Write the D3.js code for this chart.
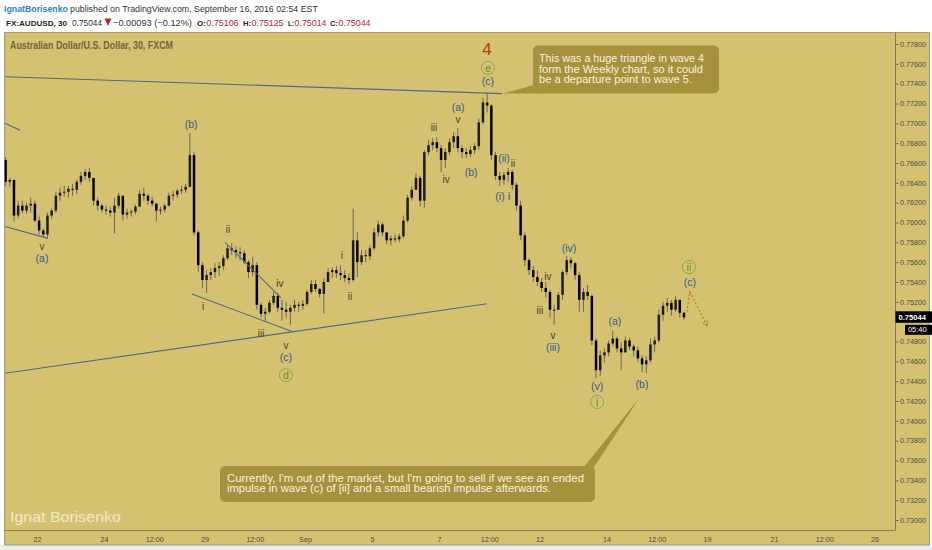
<!DOCTYPE html>
<html>
<head>
<meta charset="utf-8">
<script src="https://cdnjs.cloudflare.com/ajax/libs/d3/7.8.5/d3.min.js"></script>
<style>
  body { margin: 0; background: #fff; font-family: "Liberation Sans", Arial, sans-serif; }
</style>
</head>
<body>
<div id="chart"></div>
<script>
// AUD/USD, 3-hour bars (x = trading-day index, 0 = Aug 22)
var firstOpen = 0.7663;
var barStart = -0.9375, barStep = 0.125;

var highs = [
  0.7666,0.7645,0.7643,0.7622,0.7622,0.7620,0.7625,0.7622,0.7607,0.7594,
  0.7610,0.7614,0.7631,0.7635,0.7637,0.7637,0.7639,0.7643,0.7651,0.7654,
  0.7655,0.7645,0.7625,0.7619,0.7617,0.7616,0.7625,0.7630,0.7627,0.7614,
  0.7613,0.7618,0.7633,0.7635,0.7629,0.7626,0.7619,0.7616,0.7619,0.7630,
  0.7632,0.7634,0.7637,0.7639,0.7690,0.7671,0.7592,0.7560,0.7552,0.7554,
  0.7559,0.7560,0.7567,0.7577,0.7579,0.7576,0.7575,0.7572,0.7562,0.7565,
  0.7560,0.7519,0.7514,0.7522,0.7530,0.7529,0.7522,0.7520,0.7517,0.7522,
  0.7520,0.7522,0.7532,0.7542,0.7542,0.7534,0.7544,0.7554,0.7555,0.7556,
  0.7557,0.7552,0.7549,0.7614,0.7590,0.7572,0.7572,0.7577,0.7594,0.7602,
  0.7600,0.7590,0.7587,0.7588,0.7589,0.7607,0.7628,0.7637,0.7650,0.7647,
  0.7673,0.7683,0.7685,0.7686,0.7678,0.7675,0.7685,0.7691,0.7695,0.7678,
  0.7675,0.7677,0.7680,0.7705,0.7726,0.7730,0.7719,0.7671,0.7651,0.7651,
  0.7655,0.7653,0.7640,0.7622,0.7590,0.7564,0.7556,0.7552,0.7544,0.7540,
  0.7532,0.7517,0.7530,0.7552,0.7566,0.7565,0.7560,0.7550,0.7534,0.7537,
  0.7527,0.7483,0.7471,0.7473,0.7481,0.7491,0.7485,0.7479,0.7485,0.7484,
  0.7477,0.7475,0.7466,0.7465,0.7483,0.7485,0.7512,0.7520,0.7524,0.7522,
  0.7526,0.7522,0.7510
];
var lows = [
  0.7637,0.7636,0.7601,0.7604,0.7609,0.7609,0.7610,0.7600,0.7588,0.7585,
  0.7584,0.7604,0.7610,0.7622,0.7626,0.7625,0.7627,0.7629,0.7638,0.7643,
  0.7641,0.7617,0.7612,0.7610,0.7608,0.7606,0.7589,0.7614,0.7602,0.7604,
  0.7606,0.7608,0.7616,0.7622,0.7618,0.7616,0.7601,0.7608,0.7610,0.7616,
  0.7622,0.7625,0.7629,0.7630,0.7635,0.7587,0.7550,0.7534,0.7529,0.7542,
  0.7544,0.7546,0.7552,0.7562,0.7567,0.7564,0.7562,0.7558,0.7544,0.7546,
  0.7512,0.7504,0.7501,0.7508,0.7517,0.7510,0.7501,0.7504,0.7497,0.7510,
  0.7510,0.7512,0.7516,0.7528,0.7530,0.7524,0.7508,0.7540,0.7544,0.7544,
  0.7542,0.7540,0.7538,0.7540,0.7545,0.7557,0.7560,0.7562,0.7572,0.7586,
  0.7586,0.7578,0.7577,0.7580,0.7580,0.7584,0.7600,0.7622,0.7633,0.7616,
  0.7615,0.7668,0.7673,0.7671,0.7651,0.7655,0.7668,0.7675,0.7671,0.7665,
  0.7665,0.7666,0.7669,0.7673,0.7699,0.7711,0.7663,0.7643,0.7637,0.7638,
  0.7641,0.7633,0.7612,0.7582,0.7556,0.7547,0.7540,0.7536,0.7530,0.7524,
  0.7504,0.7497,0.7512,0.7522,0.7547,0.7554,0.7542,0.7510,0.7510,0.7522,
  0.7476,0.7443,0.7445,0.7459,0.7465,0.7475,0.7469,0.7451,0.7469,0.7471,
  0.7465,0.7459,0.7449,0.7448,0.7459,0.7469,0.7479,0.7501,0.7510,0.7506,
  0.7510,0.7504,0.7502
];
var closes = [
  0.7641,0.7643,0.7607,0.7617,0.7612,0.7617,0.7619,0.7602,0.7592,0.7588,
  0.7607,0.7612,0.7627,0.7630,0.7631,0.7634,0.7633,0.7641,0.7647,0.7651,
  0.7645,0.7622,0.7617,0.7613,0.7612,0.7610,0.7617,0.7627,0.7608,0.7610,
  0.7611,0.7616,0.7629,0.7627,0.7622,0.7619,0.7612,0.7613,0.7617,0.7627,
  0.7628,0.7632,0.7633,0.7636,0.7668,0.7590,0.7557,0.7542,0.7547,0.7550,
  0.7554,0.7556,0.7564,0.7574,0.7572,0.7570,0.7569,0.7560,0.7550,0.7557,
  0.7517,0.7508,0.7510,0.7519,0.7526,0.7514,0.7512,0.7510,0.7514,0.7517,
  0.7516,0.7518,0.7530,0.7538,0.7533,0.7528,0.7540,0.7550,0.7552,0.7549,
  0.7547,0.7544,0.7542,0.7582,0.7560,0.7567,0.7566,0.7574,0.7590,0.7598,
  0.7590,0.7582,0.7584,0.7583,0.7586,0.7602,0.7625,0.7633,0.7645,0.7622,
  0.7671,0.7678,0.7681,0.7675,0.7663,0.7671,0.7681,0.7687,0.7675,0.7671,
  0.7669,0.7673,0.7677,0.7701,0.7721,0.7718,0.7668,0.7647,0.7643,0.7648,
  0.7651,0.7638,0.7617,0.7587,0.7562,0.7552,0.7545,0.7540,0.7534,0.7530,
  0.7512,0.7512,0.7527,0.7550,0.7562,0.7559,0.7547,0.7522,0.7530,0.7526,
  0.7481,0.7451,0.7466,0.7469,0.7478,0.7483,0.7473,0.7469,0.7481,0.7475,
  0.7471,0.7463,0.7457,0.7461,0.7477,0.7481,0.7507,0.7516,0.7519,0.7512,
  0.7522,0.7509,0.75044
];

// axis ticks
var priceTicks = [0.730,0.732,0.734,0.736,0.738,0.740,0.742,0.744,0.746,0.748,0.750,0.752,
                  0.754,0.756,0.758,0.760,0.762,0.764,0.766,0.768,0.770,0.772,0.774,0.776,0.778];
var dayTicks = [0, 2, 3.5, 5, 6.5, 8, 10, 12, 13.5, 15, 17, 18.5, 20, 22, 23.5, 25];
var dayTickLabels = ["22","24","12:00","29","12:00","Sep","5","7","12:00","12","14","12:00","19","21","12:00","26"];

// elliott wave labels: text, day index, price, kind
var waveLabels = [
  ["(b)", 4.60, 0.7699, "deg"],
  ["v", 0.15, 0.7576, "sub"],
  ["(a)", 0.15, 0.7564, "deg"],
  ["i", 4.96, 0.7515, "sub"],
  ["ii", 5.70, 0.7593, "sub"],
  ["iii", 6.69, 0.7488, "sub"],
  ["iv", 7.25, 0.7539, "sub"],
  ["v", 7.43, 0.7476, "sub"],
  ["(c)", 7.43, 0.7464, "deg"],
  ["d", 7.43, 0.7446, "ring"],
  ["i", 9.10, 0.7567, "sub"],
  ["ii", 9.34, 0.7525, "sub"],
  ["iii", 11.85, 0.7696, "sub"],
  ["(a)", 12.57, 0.7716, "deg"],
  ["v", 12.57, 0.7704, "sub"],
  ["iv", 12.21, 0.7643, "sub"],
  ["(b)", 12.96, 0.7651, "deg"],
  ["4", 13.43, 0.7775, "major"],
  ["e", 13.46, 0.7756, "ring"],
  ["(c)", 13.46, 0.7742, "deg"],
  ["(ii)", 13.94, 0.7665, "deg"],
  ["ii", 14.21, 0.7660, "sub"],
  ["(i)", 13.82, 0.7626, "deg"],
  ["i", 14.09, 0.7626, "sub"],
  ["iv", 15.25, 0.7546, "sub"],
  ["iii", 15.01, 0.7511, "sub"],
  ["v", 15.40, 0.7486, "sub"],
  ["(iii)", 15.40, 0.7474, "deg"],
  ["(iv)", 15.88, 0.7574, "deg"],
  ["(a)", 17.25, 0.7500, "deg"],
  ["(v)", 16.72, 0.7435, "deg"],
  ["i", 16.72, 0.7419, "ring"],
  ["(b)", 18.06, 0.7437, "deg"],
  ["ii", 19.46, 0.7555, "ring"],
  ["(c)", 19.49, 0.7540, "deg"]
];

// trend lines: t1, p1, t2, p2
var trendLines = [
  [-0.955, 0.7747, 13.88, 0.7730],
  [-0.955, 0.7700, -0.507, 0.7693],
  [-0.955, 0.7596, 0.328, 0.7584],
  [4.627, 0.7528, 7.612, 0.7490],
  [5.612, 0.7580, 7.284, 0.7524],
  [-0.955, 0.7448, 13.43, 0.7518]
];
var projection = [[19.40, 0.7510], [19.49, 0.7530], [20.00, 0.7496]];

var callouts = [
  { t: 13.91, p: 0.7730, dx: 30, dy: -48, w: 186, h: 48,
    lines: ["This was a huge triangle in wave 4", "form the Weekly chart, so it could", "be a departure point to wave 5."],
    lens: [165, 164, 153], lead: [16, 27, 37.5] },
  { t: 18.0, p: 0.7424, dx: -420, dy: 69, w: 375, h: 36,
    lines: ["Currently, I'm out of the market, but I'm going to sell if we see an ended",
            "impulse in wave (c) of [ii] and a small bearish impulse afterwards."],
    lens: [357, 324], lead: [16, 26] }
];

var W = 932, H = 550;
var GOLD = "#d5c271";
var plot = {left: 4.5, right: 895.5, top: 32.5, bottom: 530.5};

var x = d3.scaleLinear().domain([0, 25]).range([37, 874.5]);
var y = d3.scaleLinear().domain([0.730, 0.778]).range([520, 44]);

var last = closes[closes.length - 1];

var svg = d3.select("#chart").append("svg")
    .attr("width", W)
    .attr("height", H)
    .style("display", "block");

svg.append("rect").attr("width", W).attr("height", H).attr("fill", "#fff");
svg.append("rect").attr("x", 0).attr("y", 545).attr("width", W).attr("height", 5).attr("fill", "#eceef1");

// panel
svg.append("rect")
    .attr("x", 4.5).attr("y", 32.5)
    .attr("width", 925).attr("height", 512.5)
    .attr("fill", GOLD)
    .attr("stroke", "#a39a7c");

svg.append("clipPath").attr("id", "plotClip")
  .append("rect")
    .attr("x", plot.left).attr("y", plot.top)
    .attr("width", plot.right - plot.left).attr("height", plot.bottom - plot.top);

// header pieces: narrow face, font shrunk until the piece fits its slot
function headText(txt, xx, yy, len, color, bold) {
  var t = svg.append("text")
      .attr("x", xx).attr("y", yy)
      .attr("fill", color)
      .style("font-family", "'Liberation Sans Narrow', 'Liberation Sans', Arial, sans-serif")
      .style("font-size", "11px")
      .style("font-weight", bold ? "bold" : "normal")
      .text(txt);
  var w = t.node().getComputedTextLength();
  if (w > len) t.style("font-size", (11 * len / w).toFixed(2) + "px");
}
headText("IgnatBorisenko", 4, 11.5, 64, "#2e86c1", true);
headText("published on TradingView.com, September 16, 2016 02:54 EST", 70, 11.5, 248, "#333", false);
headText("FX:AUDUSD, 30", 6, 26, 61, "#222", true);
headText("0.75044", 72, 26, 30, "#333", false);
headText("\u22120.00093 (\u22120.12%)", 113, 26, 79, "#333", false);
headText("O:", 197, 26, 9, "#222", true);
headText("0.75106", 206.5, 26, 32, "#b8262c", false);
headText("H:", 243, 26, 8, "#222", true);
headText("0.75125", 251.5, 26, 32, "#b8262c", false);
headText("L:", 288, 26, 6, "#222", true);
headText("0.75014", 294.5, 26, 32, "#b8262c", false);
headText("C:", 330, 26, 8, "#222", true);
headText("0.75044", 338.5, 26, 32, "#b8262c", false);
svg.append("path").attr("d", "M104.5,18.5L111.5,18.5L108,26Z").attr("fill", "#b8262c");

// symbol title and watermark
svg.append("text")
    .attr("x", 10).attr("y", 49)
    .attr("textLength", 163).attr("lengthAdjust", "spacingAndGlyphs")
    .style("font-size", "10px").style("font-weight", "bold")
    .attr("fill", "#6f6644")
    .text("Australian Dollar/U.S. Dollar, 30, FXCM");

svg.append("text")
    .attr("x", 10).attr("y", 522)
    .attr("textLength", 111).attr("lengthAdjust", "spacingAndGlyphs")
    .style("font-size", "15px")
    .attr("fill", "#f1e9c6")
    .text("Ignat Borisenko");

// axes lines
svg.append("line")
    .attr("x1", plot.right).attr("x2", plot.right)
    .attr("y1", plot.top).attr("y2", plot.bottom)
    .attr("stroke", "#8a7d50");
svg.append("line")
    .attr("x1", plot.left).attr("x2", plot.right)
    .attr("y1", plot.bottom).attr("y2", plot.bottom)
    .attr("stroke", "#8a7d50");

// Y axis (labels hidden under the last-price marker are dropped, as on the chart)
var yAxis = d3.axisRight(y)
    .tickValues(priceTicks.filter(function(p) { return Math.abs(y(p) - y(last)) > 8; }))
    .tickFormat(d3.format(".5f"))
    .tickSize(3)
    .tickPadding(1.5);
var gy = svg.append("g")
    .attr("transform", "translate(" + plot.right + ",0)")
    .call(yAxis);
gy.select(".domain").remove();
gy.selectAll("line").attr("stroke", "#6d6a5c");
gy.selectAll("text").attr("fill", "#4a4a48").style("font-size", "7.2px")
    .style("font-family", "'Liberation Sans', Arial, sans-serif");

// X axis
var xAxis = d3.axisBottom(x)
    .tickValues(dayTicks)
    .tickFormat(function(d, i) { return dayTickLabels[i]; })
    .tickSize(0)
    .tickPadding(6);
var gx = svg.append("g")
    .attr("transform", "translate(0," + plot.bottom + ")")
    .call(xAxis);
gx.select(".domain").remove();
gx.selectAll("text").attr("fill", "#4a4a48").style("font-size", "7.2px")
    .style("font-family", "'Liberation Sans', Arial, sans-serif");

// candles
var bars = closes.map(function(c, i) {
  var o = i === 0 ? firstOpen : closes[i - 1];
  return { t: barStart + i * barStep, o: o, c: c,
           h: Math.max(highs[i], o, c), l: Math.min(lows[i], o, c) };
});

var g = svg.append("g").attr("clip-path", "url(#plotClip)");

g.append("g").selectAll("line")
  .data(bars)
  .enter()
    .append("line")
    .attr("x1", function(d) { return x(d.t); })
    .attr("x2", function(d) { return x(d.t); })
    .attr("y1", function(d) { return y(d.h); })
    .attr("y2", function(d) { return y(d.l); })
    .attr("stroke", "#6a675a")
    .attr("stroke-width", 1);

g.append("g").selectAll("rect")
  .data(bars)
  .enter()
    .append("rect")
    .attr("x", function(d) { return x(d.t) - 1.25; })
    .attr("width", 2.5)
    .attr("y", function(d) { return y(Math.max(d.o, d.c)); })
    .attr("height", function(d) { return Math.max(1, Math.abs(y(d.o) - y(d.c))); })
    .attr("fill", function(d) { return d.c >= d.o ? "#1e1e1a" : "#000"; });

// trend lines
g.append("g").selectAll("line")
  .data(trendLines)
  .enter()
    .append("line")
    .attr("x1", function(d) { return x(d[0]); })
    .attr("y1", function(d) { return y(d[1]); })
    .attr("x2", function(d) { return x(d[2]); })
    .attr("y2", function(d) { return y(d[3]); })
    .attr("stroke", "#4f6b86")
    .attr("stroke-width", 1.1);

// projected move
var proj = d3.line()
    .x(function(d) { return x(d[0]); })
    .y(function(d) { return y(d[1]); });
g.append("path")
    .datum(projection)
    .attr("d", proj)
    .attr("fill", "none")
    .attr("stroke", "#b07c1e")
    .attr("stroke-width", 1.2)
    .attr("stroke-dasharray", "2,2");
var tip = projection[projection.length - 1], prev = projection[projection.length - 2];
var ang = Math.atan2(y(tip[1]) - y(prev[1]), x(tip[0]) - x(prev[0]));
[ang + 2.6, ang - 2.6].forEach(function(a) {
  g.append("line")
      .attr("x1", x(tip[0])).attr("y1", y(tip[1]))
      .attr("x2", x(tip[0]) + 6 * Math.cos(a)).attr("y2", y(tip[1]) + 6 * Math.sin(a))
      .attr("stroke", "#b07c1e").attr("stroke-width", 1.2)
      .attr("stroke-dasharray", "2,1");
});

// wave labels
var labels = g.append("g").attr("text-anchor", "middle");
waveLabels.forEach(function(d) {
  var lx = x(d[1]), ly = y(d[2]);
  if (d[3] === "ring") {
    labels.append("circle")
        .attr("cx", lx).attr("cy", ly).attr("r", 6.5)
        .attr("fill", "none").attr("stroke", "#86a84c").attr("stroke-width", 1);
  }
  labels.append("text")
      .attr("x", lx).attr("y", ly)
      .attr("dy", "0.36em")
      .style("font-size", d[3] === "major" ? "17px" : d[3] === "sub" ? "10px" : "10.5px")
      .attr("fill", d[3] === "major" ? "#b3391c" : d[3] === "ring" ? "#5f8f2a" :
                    d[3] === "deg" ? "#2c5b88" : "#4c4120")
      .text(d[0]);
});

// callouts
callouts.forEach(function(c) {
  var tx = x(c.t), ty = y(c.p);
  var bx = tx + c.dx, by = ty + c.dy;
  var cg = svg.append("g");
  var tail;
  if (c.dx > 0) {
    tail = [[tx, ty], [bx + 2, by + c.h - 9], [bx + 10, by + c.h]];
  } else {
    tail = [[tx, ty], [bx + c.w - 11, by + 1], [bx + c.w - 1, by + 1]];
  }
  cg.append("rect")
      .attr("x", bx).attr("y", by)
      .attr("width", c.w).attr("height", c.h)
      .attr("rx", 5)
      .attr("fill", "#a6913d");
  cg.append("path")
      .attr("d", "M" + tail.join("L") + "Z")
      .attr("fill", "#a6913d");
  c.lines.forEach(function(line, i) {
    cg.append("text")
        .attr("x", bx + (c.dx > 0 ? 6 : 7))
        .attr("y", by + c.lead[i])
        .attr("textLength", c.lens[i]).attr("lengthAdjust", "spacingAndGlyphs")
        .style("font-size", "10px")
        .attr("fill", "#f8f2dc")
        .text(line);
  });
});

// last price marker
svg.append("rect")
    .attr("x", plot.right).attr("y", y(last) - 6)
    .attr("width", W - plot.right).attr("height", 11.5)
    .attr("fill", "#000");
svg.append("text")
    .attr("x", plot.right + 3).attr("y", y(last) + 3)
    .style("font-size", "7.6px").style("font-weight", "bold")
    .attr("fill", "#fff")
    .text(d3.format(".5f")(last));
svg.append("rect")
    .attr("x", 905).attr("y", y(last) + 7.5)
    .attr("width", W - 905).attr("height", 10)
    .attr("fill", "#000");
svg.append("text")
    .attr("x", 908).attr("y", y(last) + 15)
    .style("font-size", "7.4px")
    .attr("fill", "#fff")
    .text("05:40");
</script>
</body>
</html>
